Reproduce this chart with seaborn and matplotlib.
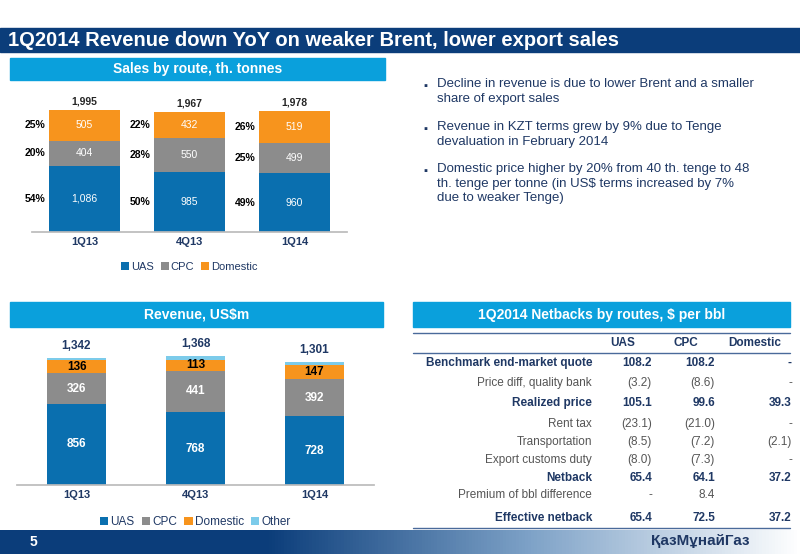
import matplotlib
matplotlib.use("Agg")
import matplotlib.pyplot as plt
import seaborn as sns
import numpy as np
from matplotlib.patches import Rectangle

sns.set_theme(style="white")
plt.rcParams['font.family'] = ['Liberation Sans', 'DejaVu Sans']

quarters = ['1Q13', '4Q13', '1Q14']
vol_uas = [1086, 985, 960]
vol_cpc = [404, 550, 499]
vol_dom = [505, 432, 519]
vol_tot = [1995, 1967, 1978]
pct_uas = ['54%', '50%', '49%']
pct_cpc = ['20%', '28%', '25%']
pct_dom = ['25%', '22%', '26%']

rev_uas = [856, 768, 728]
rev_cpc = [326, 441, 392]
rev_dom = [136, 113, 147]
rev_oth = [24, 46, 34]
rev_tot = [1342, 1368, 1301]

tbl_rows = ['Benchmark end-market quote', 'Price diff, quality bank', 'Realized price', 'Rent tax',
            'Transportation', 'Export customs duty', 'Netback', 'Premium of bbl difference', 'Effective netback']
tbl_uas = ['108.2', '(3.2)', '105.1', '(23.1)', '(8.5)', '(8.0)', '65.4', '-', '65.4']
tbl_cpc = ['108.2', '(8.6)', '99.6', '(21.0)', '(7.2)', '(7.3)', '64.1', '8.4', '72.5']
tbl_dom = ['-', '-', '39.3', '-', '(2.1)', '-', '37.2', '', '37.2']
tbl_bold = [True, False, True, False, False, False, True, False, True]

C_UAS, C_CPC, C_DOM, C_OTH = '#0a6faf', '#8c8c8c', '#f7941d', '#7ccbea'
NAVY = '#1f3864'
W, H = 800, 554
fig = plt.figure(figsize=(8, 5.54), dpi=100)

def px(x, y, w, h):
    return [x / W, 1 - (y + h) / H, w / W, h / H]

def band(x, y, w, h, color, text, size=10):
    fig.patches.append(Rectangle((x / W, 1 - (y + h) / H), w / W, h / H, transform=fig.transFigure,
                                 color=color, zorder=0))
    fig.text((x + w / 2) / W, 1 - (y + h / 2) / H, text, color='white', ha='center', va='center',
             fontsize=size, fontweight='bold')

# header
fig.patches.append(Rectangle((0, 1 - 52 / H), 1, 24 / H, transform=fig.transFigure, color='#0b3d7a'))
fig.text(8 / W, 1 - 40 / H, '1Q2014 Revenue down YoY on weaker Brent, lower export sales', color='white',
         fontsize=14.5, fontweight='bold', va='center')
band(10, 58, 375, 22, '#0aa0dc', 'Sales by route, th. tonnes')
band(10, 302, 373, 25, '#0aa0dc', 'Revenue, US$m')
band(413, 302, 377, 25, '#0aa0dc', '1Q2014 Netbacks by routes, $ per bbl')
# footer
grad = np.linspace(0, 1, 256).reshape(1, -1)
fax = fig.add_axes(px(0, 530, 800, 24))
cm = matplotlib.colors.LinearSegmentedColormap.from_list('g', ['#0b3d7a', '#0b3d7a', '#7fa3c8', '#ffffff'])
fax.imshow(grad, aspect='auto', cmap=cm)
fax.axis('off')
fig.text(30 / W, 1 - 542 / H, '5', color='white', fontsize=10, fontweight='bold', va='center')
fig.text(700 / W, 1 - 541 / H, 'ҚазМұнайГаз', color=NAVY, fontsize=11, fontweight='bold', va='center', ha='center')

def stack_chart(ax, layers, colors, names, bw):
    bottom = np.zeros(3)
    for vals, c, n in zip(layers, colors, names):
        sns.barplot(x=quarters, y=vals, bottom=bottom, color=c, width=bw, ax=ax, label=n,
                    saturation=1, edgecolor='none')
        bottom = bottom + np.array(vals)
    sns.despine(ax=ax, left=True)
    ax.set_yticks([])
    ax.spines['bottom'].set_color('#bbbbbb')
    ax.tick_params(axis='x', length=0, labelsize=8, labelcolor=NAVY)
    for t in ax.get_xticklabels():
        t.set_fontweight('bold')

# top chart
ax1 = fig.add_axes(px(32, 90, 315, 142))
stack_chart(ax1, [vol_uas, vol_cpc, vol_dom], [C_UAS, C_CPC, C_DOM], ['UAS', 'CPC', 'Domestic'], 0.67)
ax1.set_ylim(0, 2322)
for i in range(3):
    b = 0
    for vals, pc in zip([vol_uas, vol_cpc, vol_dom], [pct_uas, pct_cpc, pct_dom]):
        ax1.text(i, b + vals[i] / 2, f'{vals[i]:,}', ha='center', va='center', color='white', fontsize=7.5,
                 zorder=10)
        ax1.text(i - 0.37, b + vals[i] / 2, pc[i], ha='right', va='center', color='black', fontsize=7.5,
                 fontweight='bold', zorder=10)
        b += vals[i]
    ax1.text(i, vol_tot[i] + 60, f'{vol_tot[i]:,}', ha='center', va='bottom', fontsize=7.5, fontweight='bold')
ax1.legend(loc='upper center', bbox_to_anchor=(0.5, -0.14), ncol=3, frameon=False, fontsize=8,
           handlelength=0.7, handletextpad=0.2, columnspacing=0.6, labelcolor=NAVY)

# bottom chart
ax2 = fig.add_axes(px(17, 340, 357, 145))
stack_chart(ax2, [rev_uas, rev_cpc, rev_dom, rev_oth], [C_UAS, C_CPC, C_DOM, C_OTH],
            ['UAS', 'CPC', 'Domestic', 'Other'], 0.5)
ax2.set_ylim(0, 1532)
for i in range(3):
    b = 0
    for vals, col in zip([rev_uas, rev_cpc, rev_dom], ['white', 'white', 'black']):
        ax2.text(i, b + vals[i] / 2, f'{vals[i]:,}', ha='center', va='center', color=col, fontsize=8.5,
                 fontweight='bold', zorder=10)
        b += vals[i]
    ax2.text(i, rev_tot[i] + 60, f'{rev_tot[i]:,}', ha='center', va='bottom', fontsize=8.5, fontweight='bold',
             color=NAVY)
ax2.legend(loc='upper center', bbox_to_anchor=(0.5, -0.14), ncol=4, frameon=False, fontsize=8.5,
           handlelength=0.7, handletextpad=0.2, columnspacing=0.6, labelcolor=NAVY)

# bullets
bullets = [(86, 'Decline in revenue is due to lower Brent and a smaller\nshare of export sales'),
           (129, 'Revenue in KZT terms grew by 9% due to Tenge\ndevaluation in February 2014'),
           (171, 'Domestic price higher by 20% from 40 th. tenge to 48\nth. tenge per tonne (in US$ terms increased by 7%\ndue to weaker Tenge)')]
for y, t in bullets:
    fig.text(423 / W, 1 - y / H, '▪', color=NAVY, fontsize=8, va='center')
    fig.text(437 / W, 1 - (y - 8) / H, t, color=NAVY, fontsize=9.5, va='top', linespacing=1.3)

# table
for yy in [333, 353, 528]:
    fig.add_artist(plt.Line2D([413 / W, 790 / W], [1 - yy / H, 1 - yy / H], color='#4a6a9a', lw=1))
for x, h in [(623, 'UAS'), (686, 'CPC'), (755, 'Domestic')]:
    fig.text(x / W, 1 - 343 / H, h, ha='center', va='center', color=NAVY, fontsize=8.5, fontweight='bold')
ys = [363, 383, 403, 424, 442, 460, 478, 495, 518]
for y, r, u, c, d, bold in zip(ys, tbl_rows, tbl_uas, tbl_cpc, tbl_dom, tbl_bold):
    w = 'bold' if bold else 'normal'
    col = NAVY if bold else '#555555'
    fig.text(592 / W, 1 - y / H, r, ha='right', va='center', color=col, fontsize=8.5, fontweight=w)
    for x, v in [(652, u), (715, c), (792, d)]:
        fig.text(x / W, 1 - y / H, v, ha='right', va='center', color=col, fontsize=8.5, fontweight=w)

fig.savefig('out.png', dpi=100)
